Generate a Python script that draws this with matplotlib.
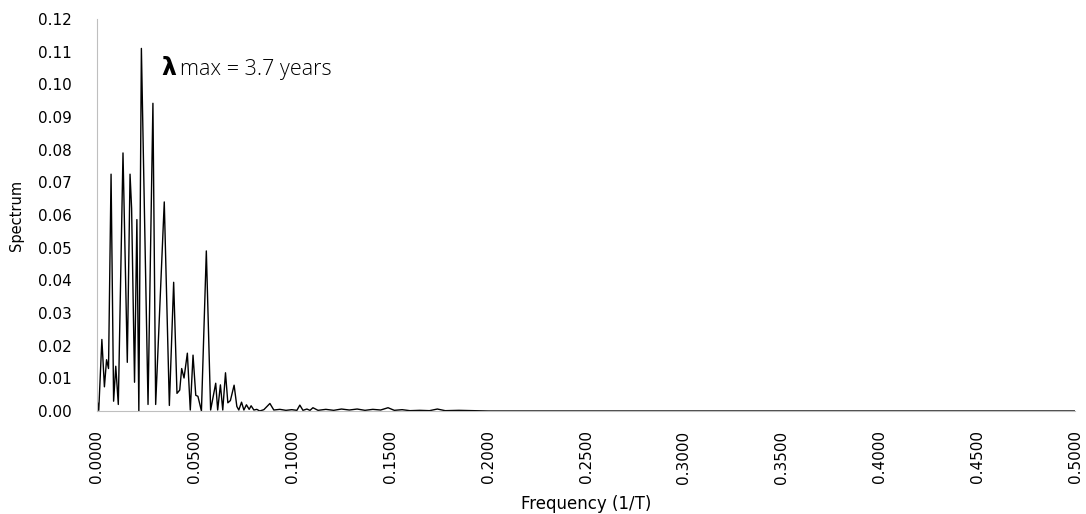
import matplotlib.pyplot as plt

# frequency (1/T) and spectrum values
freq = [0.0000, 0.0009, 0.0025, 0.0038, 0.0049, 0.0059, 0.0072, 0.0085, 0.0096, 0.0109,
        0.0133, 0.0155, 0.0169, 0.0177, 0.0192, 0.0204, 0.0214, 0.0227, 0.0261, 0.0286,
        0.0300, 0.0344, 0.0370, 0.0392, 0.0409, 0.0423, 0.0433, 0.0445, 0.0462, 0.0477,
        0.0491, 0.0505, 0.0516, 0.0534, 0.0559, 0.0581, 0.0607, 0.0617, 0.0631, 0.0643,
        0.0657, 0.0669, 0.0682, 0.0701, 0.0715, 0.0725, 0.0739, 0.0751, 0.0764, 0.0778,
        0.0788, 0.0802, 0.0817, 0.0832, 0.0853, 0.0884, 0.0904, 0.0935, 0.0966, 0.0996,
        0.1022, 0.1037, 0.1053, 0.1073, 0.1089, 0.1104, 0.1130, 0.1170, 0.1210, 0.1250,
        0.1290, 0.1330, 0.1370, 0.1410, 0.1450, 0.1488, 0.1520, 0.1560, 0.1600, 0.1650,
        0.1700, 0.1740, 0.1780, 0.1850, 0.2000, 0.3000, 0.4000, 0.5000]
spectrum = [0.0035, 0.0002, 0.0219, 0.0074, 0.0157, 0.0130, 0.0725, 0.0030, 0.0137, 0.0020,
            0.0790, 0.0149, 0.0725, 0.0620, 0.0088, 0.0586, 0.0000, 0.1110, 0.0020, 0.0942,
            0.0020, 0.0640, 0.0017, 0.0394, 0.0054, 0.0064, 0.0130, 0.0101, 0.0177, 0.0003,
            0.0171, 0.0048, 0.0045, 0.0000, 0.0490, 0.0003, 0.0085, 0.0003, 0.0080, 0.0003,
            0.0117, 0.0025, 0.0032, 0.0079, 0.0014, 0.0003, 0.0027, 0.0003, 0.0019, 0.0005,
            0.0016, 0.0003, 0.0005, 0.0000, 0.0004, 0.0023, 0.0003, 0.0005, 0.0002, 0.0004,
            0.0002, 0.0018, 0.0002, 0.0006, 0.0002, 0.0010, 0.0002, 0.0005, 0.0002, 0.0006,
            0.0003, 0.0006, 0.0002, 0.0005, 0.0003, 0.0010, 0.0002, 0.0004, 0.0001, 0.0002,
            0.0001, 0.0006, 0.0001, 0.0002, 0.0000, 0.0000, 0.0000, 0.0000]

xticks = [i * 0.05 for i in range(11)]
yticks = [i * 0.01 for i in range(13)]

fig = plt.figure(figsize=(10.86, 5.14), dpi=100)
ax = fig.add_axes([0.0893, 0.2004, 0.9006, 0.7626])

ax.plot(freq, spectrum, color='black', lw=1.0)

ax.set_xlim(0, 0.5)
ax.set_ylim(0, 0.12)
ax.set_xticks(xticks)
ax.set_xticklabels([f"{t:.4f}" for t in xticks], rotation=90, fontsize=11)
ax.set_yticks(yticks)
ax.set_yticklabels([f"{t:.2f}" for t in yticks], fontsize=11)
ax.tick_params(axis='x', length=0, pad=14)
ax.tick_params(axis='y', length=0, pad=18)

for side in ['top', 'right']:
    ax.spines[side].set_visible(False)
ax.spines['left'].set_color('#bfbfbf')
ax.spines['bottom'].set_color('#bfbfbf')

ax.set_xlabel("Frequency (1/T)", fontsize=12, labelpad=8)
ax.set_ylabel("Spectrum", fontsize=10.5, labelpad=10)

# annotation for the dominant period
ax.text(0.0330, 0.1028, "λ", fontsize=17, fontweight='bold', family='DejaVu Sans')
ax.text(0.0425, 0.1028, "max = 3.7 years", fontsize=15.5, family='Open Sans', fontweight='light')

fig.savefig('out.png', dpi=100)
